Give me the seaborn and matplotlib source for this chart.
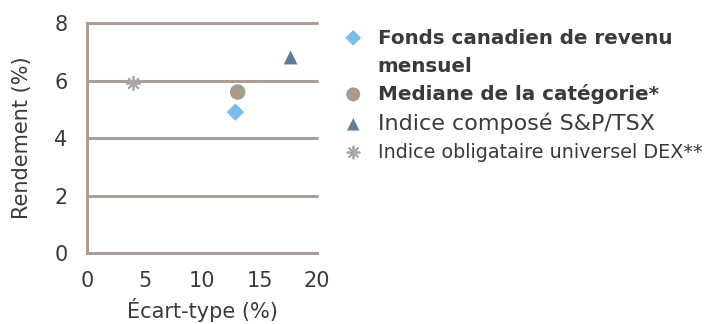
import matplotlib
matplotlib.use("Agg")
import matplotlib.pyplot as plt
from matplotlib.lines import Line2D
import seaborn as sns

# Risk / return data (standard deviation vs. return, in %)
series = [
    "Fonds canadien de revenu",
    "Mediane de la catégorie*",
    "Indice composé S&P/TSX",
    "Indice obligataire universel DEX**",
]
series_suffix = "mensuel"  # second line of the first legend label
ecart_type = [12.9, 13.1, 17.7, 4.0]
rendement = [4.9, 5.6, 6.8, 5.9]
x_ticks = [0, 5, 10, 15, 20]
y_ticks = [0, 2, 4, 6, 8]

colors = ["#7bbde9", "#a89a8c", "#5f7e96", "#a8a8aa"]
markers = ["D", "o", "^", (8, 2, 0)]
sizes = [80, 125, 100, 95]

sns.set_style("white")
plt.rcParams["font.family"] = ["DejaVu Sans"]

grid_col = "#ab9e92"
text_col = "#3a3a3a"
fs = 15

fig = plt.figure(figsize=(7.04, 3.24), dpi=100)
ax = fig.add_axes([0.1236, 0.219, 0.3267, 0.710])

for name, x, y, c, m, s in zip(series, ecart_type, rendement, colors, markers, sizes):
    if m != (8, 2, 0):
        sns.scatterplot(x=[x], y=[y], ax=ax, marker=m, s=s, color=c,
                        edgecolor="none", label=name, zorder=3)
    else:
        sns.scatterplot(x=[x], y=[y], ax=ax, marker=m, s=s, color=c,
                        linewidth=1.3, label=name, zorder=3)

ax.set_xlim(0, 20)
ax.set_ylim(0, 8)
ax.set_xticks(x_ticks)
ax.set_yticks(y_ticks)
ax.set_xticklabels([str(v) for v in x_ticks])
ax.set_yticklabels([str(v) for v in y_ticks])

for yv in y_ticks[1:]:
    ax.axhline(yv, color=grid_col, lw=2.2, zorder=1, clip_on=False)

for side in ["top", "right"]:
    ax.spines[side].set_visible(False)
for side in ["left", "bottom"]:
    ax.spines[side].set_color(grid_col)
    ax.spines[side].set_linewidth(2.2)

ax.tick_params(axis="both", length=0, labelsize=fs, colors=text_col)
ax.tick_params(axis="x", pad=13)
ax.tick_params(axis="y", pad=14)
ax.set_xlabel("Écart-type (%)", fontsize=fs, color=text_col, labelpad=5)
ax.set_ylabel("Rendement (%)", fontsize=fs, color=text_col, labelpad=16)

handles, labels = ax.get_legend_handles_labels()
if ax.get_legend():
    ax.get_legend().remove()
# the first label wraps onto a second line with no marker of its own
blank = Line2D([], [], linestyle="none")
handles = [handles[0], blank] + handles[1:]
labels = [labels[0], series_suffix] + labels[1:]

leg = fig.legend(handles, labels, loc="upper left", bbox_to_anchor=(0.486, 0.913),
                 frameon=False, fontsize=16, markerscale=0.9,
                 handlelength=1.0, handletextpad=0.6, labelspacing=0.38,
                 borderaxespad=0, borderpad=0)
for i, t in enumerate(leg.get_texts()):
    t.set_color(text_col)
    if i < 3:
        t.set_fontweight("bold")
        t.set_fontsize(14.3)
    if i == 4:
        t.set_fontsize(13.8)

fig.savefig("out.png", dpi=100)
